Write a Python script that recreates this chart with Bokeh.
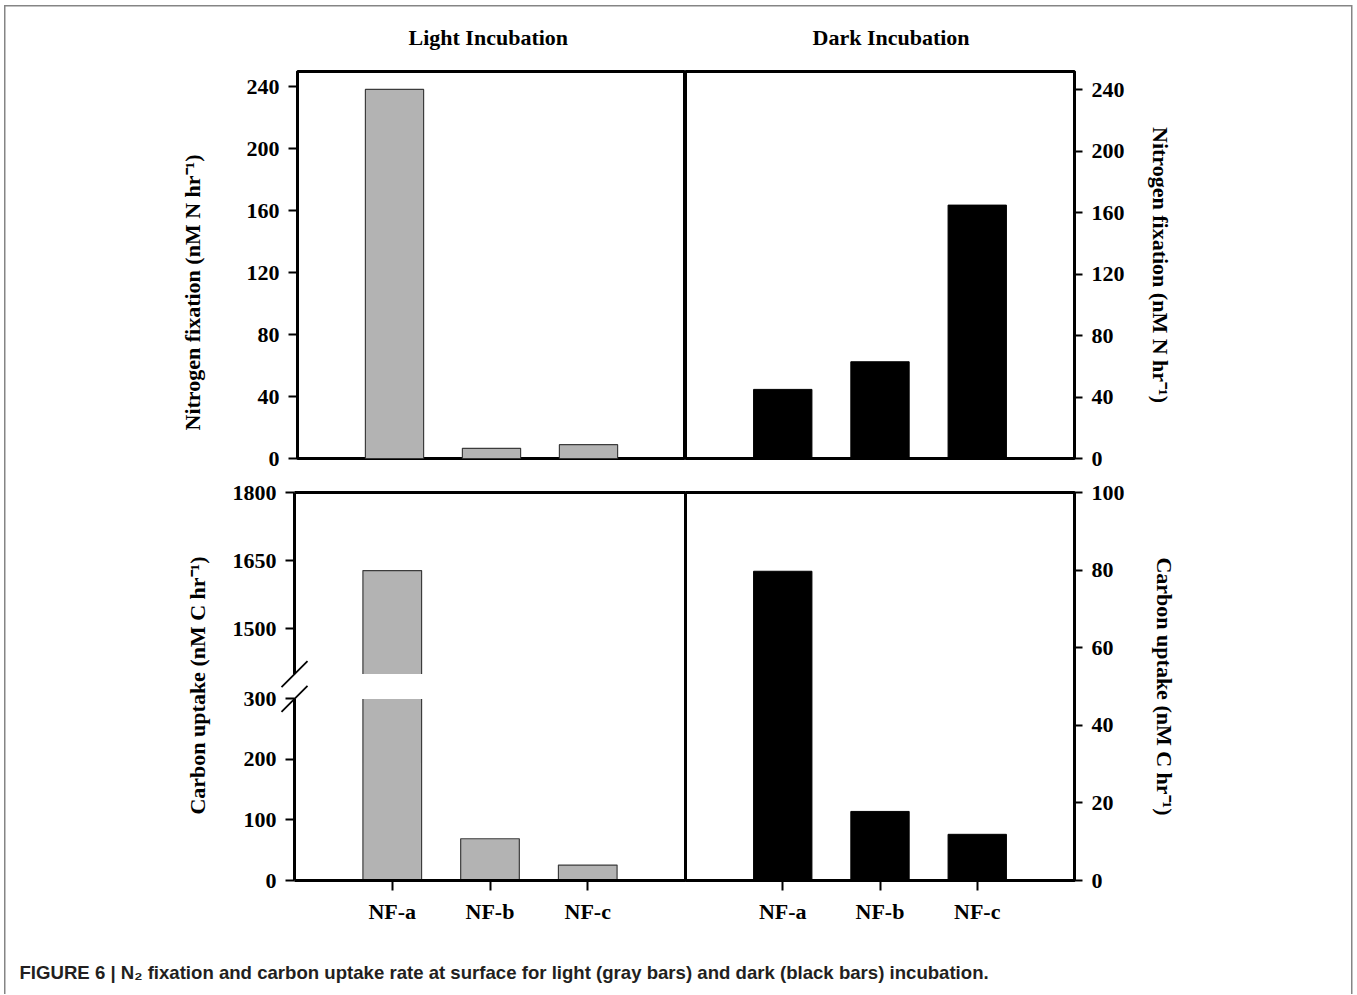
from bokeh.plotting import figure
from bokeh.layouts import column, row
from bokeh.models import FixedTicker, Label, FactorRange, Range1d, LinearAxis
from bokeh.embed import file_html
from bokeh.resources import INLINE

# ---------------- data ----------------
categories = ["NF-a", "NF-b", "NF-c"]
light_n2 = [238.4, 6.6, 8.9]        # nM N hr-1 (light incubation)
dark_n2 = [45, 63, 165]             # nM N hr-1 (dark incubation)
light_c = [1628, 69, 25.5]          # nM C hr-1 (light incubation)
dark_c = [79.7, 17.8, 11.9]         # nM C hr-1 (dark incubation)

n2_ticks = [0, 40, 80, 120, 160, 200, 240]
light_c_ticks_low = [0, 100, 200, 300]
light_c_ticks_high = [1500, 1650, 1800]
dark_c_ticks = [0, 20, 40, 60, 80, 100]

title_light = "Light Incubation"
title_dark = "Dark Incubation"
label_n2 = "Nitrogen fixation (nM N hr\u207b\u00b9)"
label_c = "Carbon uptake (nM C hr\u207b\u00b9)"
caption = ("FIGURE 6 | N\u2082 fixation and carbon uptake rate at surface for light "
           "(gray bars) and dark (black bars) incubation.")

# ---------------- broken axis (light carbon) ----------------
LOW_MAX = 300      # top of lower segment
HIGH_MIN = 1400    # bottom of upper segment
GAP = 41           # display units for the gap
HIGH_SCALE = 0.75  # display units per value in upper segment


def brk(v):
    if v <= LOW_MAX:
        return v
    if v < HIGH_MIN:
        return LOW_MAX + (v - LOW_MAX) / (HIGH_MIN - LOW_MAX) * GAP
    return LOW_MAX + GAP + (v - HIGH_MIN) * HIGH_SCALE


# ---------------- style ----------------
SERIF = "Liberation Serif"
LIGHT_FILL = "#b3b3b3"
LIGHT_LINE = "#3c3c3c"


def style_axis(ax, tick_out=9):
    ax.major_label_text_font = SERIF
    ax.major_label_text_font_style = "bold"
    ax.major_label_text_font_size = "22px"
    ax.major_label_text_color = "black"
    ax.axis_label_text_font = SERIF
    ax.axis_label_text_font_style = "bold"
    ax.axis_label_text_font_size = "22px"
    ax.axis_label_text_color = "black"
    ax.axis_line_width = 3
    ax.axis_line_color = "black"
    ax.major_tick_line_width = 2
    ax.major_tick_line_color = "black"
    ax.major_tick_in = 0
    ax.major_tick_out = tick_out
    ax.minor_tick_line_color = None
    ax.major_label_standoff = 9


def style_title(p, offset):
    p.title.align = "left"
    p.title.text_font = SERIF
    p.title.text_font_style = "bold"
    p.title.text_font_size = "22px"
    p.title.text_color = "black"
    p.title.standoff = 43
    p.title.offset = offset


def make_fig(width, height, x_range, y_range, xloc, yloc, **mb):
    p = figure(width=width, height=height, x_range=x_range,
               y_range=y_range, x_axis_location=xloc, y_axis_location=yloc,
               output_backend="svg", toolbar_location=None,
               background_fill_color="white", border_fill_color=None,
               outline_line_color="black", outline_line_width=3, **mb)
    p.xgrid.visible = False
    p.ygrid.visible = False
    return p


def cat_range():
    return FactorRange(*categories, range_padding=0.5,
                       range_padding_units="absolute")


W_L, W_R = 685, 671
H_TOP, H_BOT, H_CAP = 475, 480, 39

# ---------------- top-left: light N2 ----------------
tl = make_fig(W_L, H_TOP, cat_range(), Range1d(0, 250), None, "left",
              min_border_left=297, min_border_right=0,
              min_border_top=71, min_border_bottom=17)
tl.title.text = title_light
style_title(tl, 111)
tl.vbar(x=categories, top=light_n2, width=0.6, fill_color=LIGHT_FILL,
        line_color=LIGHT_LINE, line_width=1.2)
style_axis(tl.yaxis[0])
tl.yaxis[0].ticker = FixedTicker(ticks=n2_ticks)
tl.yaxis[0].axis_label = label_n2 + "\u2002" * 5
tl.yaxis[0].axis_label_standoff = 39

# ---------------- top-right: dark N2 ----------------
tr = make_fig(W_R, H_TOP, cat_range(), Range1d(0, 252), None, "right",
              min_border_left=0, min_border_right=282,
              min_border_top=71, min_border_bottom=17)
tr.title.text = title_dark
style_title(tr, 127)
tr.vbar(x=categories, top=dark_n2, width=0.6, fill_color="black",
        line_color="black", line_width=1)
style_axis(tr.yaxis[0], tick_out=8)
tr.yaxis[0].ticker = FixedTicker(ticks=n2_ticks)
tr.yaxis[0].axis_label = label_n2
tr.yaxis[0].axis_label_standoff = 20

# ---------------- bottom-left: light carbon (broken axis) ----------------
# The frame of this panel is made larger than the drawn box, and the axes are
# pinned at data 0, so the break marks and the broken axis line are not clipped.
PX_PER_X = 97.75          # pixels per category step
AXIS_X_PX = 294           # canvas x of the y axis
FRAME_LEFT_PX = 150       # canvas x where the frame starts
BOX_TOP_PX, BOX_BOTTOM_PX = 17, 405   # drawn box, canvas y
FRAME_BOTTOM_PX = 420     # canvas y where the frame ends
PX_PER_D = (BOX_BOTTOM_PX - BOX_TOP_PX) / brk(1800)
x_start = -(AXIS_X_PX - FRAME_LEFT_PX) / PX_PER_X
x_end = len(categories) + 1
y_top = brk(1800)
y_end = y_top + BOX_TOP_PX / PX_PER_D
y_start = -(FRAME_BOTTOM_PX - BOX_BOTTOM_PX) / PX_PER_D
x_pos = [i + 1 for i in range(len(categories))]

bl = make_fig(W_L, H_BOT, Range1d(x_start, x_end), Range1d(y_start, y_end),
              "below", "left",
              min_border_left=FRAME_LEFT_PX, min_border_right=0,
              min_border_top=0, min_border_bottom=H_BOT - FRAME_BOTTOM_PX)
bl.frame_align = False
bl.outline_line_color = None
bl.background_fill_color = None
bl.vbar(x=x_pos, top=[brk(v) for v in light_c], width=0.6,
        fill_color=LIGHT_FILL, line_color=LIGHT_LINE, line_width=1.2)
gap_lo, gap_hi = LOW_MAX, LOW_MAX + GAP
# white gap through the broken bar
bl.quad(left=[0.2], right=[x_end - 0.2], bottom=[gap_lo], top=[gap_hi],
        fill_color="white", line_color=None)
# frame pieces, the y-axis line is broken at the gap
bl.segment(x0=[0, 0, 0, x_end], y0=[0, gap_hi, y_top, 0],
           x1=[0, 0, x_end, x_end], y1=[gap_lo, y_top, y_top, y_top],
           line_color="black", line_width=3)
# break marks
dx, dy = 13 / PX_PER_X, 13 / PX_PER_D
bl.segment(x0=[-dx, -dx], y0=[gap_hi - dy, gap_lo - dy],
           x1=[dx, dx], y1=[gap_hi + dy, gap_lo + dy],
           line_color="black", line_width=1.8)

ya = bl.yaxis[0]
style_axis(ya)
ya.fixed_location = 0
ya.axis_line_color = None
c_ticks = light_c_ticks_low + light_c_ticks_high
ya.ticker = FixedTicker(ticks=[brk(t) for t in c_ticks])
ya.major_label_overrides = {brk(t): str(t) for t in c_ticks}
ya.axis_label = label_c
ya.axis_label_standoff = 20

# category labels (at the frame bottom)
xa = bl.xaxis[0]
style_axis(xa, tick_out=0)
xa.axis_line_color = None
xa.major_tick_line_color = None
xa.ticker = FixedTicker(ticks=x_pos)
xa.major_label_overrides = {x: c for x, c in zip(x_pos, categories)}
xa.major_label_standoff = 3
# axis line and ticks pinned at y = 0 (no labels of its own)
xline = LinearAxis(fixed_location=0)
style_axis(xline, tick_out=10)
xline.bounds = (0, x_end)
xline.ticker = FixedTicker(ticks=x_pos)
xline.major_label_text_color = None
xline.major_label_standoff = 0
bl.add_layout(xline, "below")

# ---------------- bottom-right: dark carbon ----------------
br = make_fig(W_R, H_BOT, cat_range(), Range1d(0, 100), "below", "right",
              min_border_left=0, min_border_right=282,
              min_border_top=17, min_border_bottom=H_BOT - BOX_BOTTOM_PX)
br.frame_align = False
br.vbar(x=categories, top=dark_c, width=0.6, fill_color="black",
        line_color="black", line_width=1)
style_axis(br.yaxis[0], tick_out=8)
br.yaxis[0].ticker = FixedTicker(ticks=dark_c_ticks)
br.yaxis[0].axis_label = label_c
br.yaxis[0].axis_label_standoff = 24
style_axis(br.xaxis[0], tick_out=10)
br.xaxis[0].major_label_standoff = 8

# ---------------- caption ----------------
cap = figure(width=W_L + W_R, height=H_CAP, x_range=(0, W_L + W_R),
             y_range=(0, H_CAP), x_axis_location=None, y_axis_location=None,
             output_backend="svg", toolbar_location=None, min_border=0,
             outline_line_color=None, background_fill_color=None,
             border_fill_color=None)
cap.xgrid.visible = False
cap.ygrid.visible = False
cap.add_layout(Label(x=19, y=22, text=caption, text_font="Liberation Sans",
                     text_font_style="bold", text_font_size="18.6px",
                     text_color="#231f20", text_baseline="middle"))

GRAY = "linear-gradient(#858585, #858585)"
layout = column(row(tl, tr), row(bl, br), cap,
                styles={"background-color": "white",
                        "background-image": ", ".join([GRAY] * 3),
                        "background-size": "1.5px 100%, calc(100% - 8px) 1.5px, 1.5px 100%",
                        "background-position": "4px 5px, 4px 5px, right 4px top 5px",
                        "background-repeat": "no-repeat"})
open("out.html", "w").write(file_html(layout, INLINE, "Figure 6"))
